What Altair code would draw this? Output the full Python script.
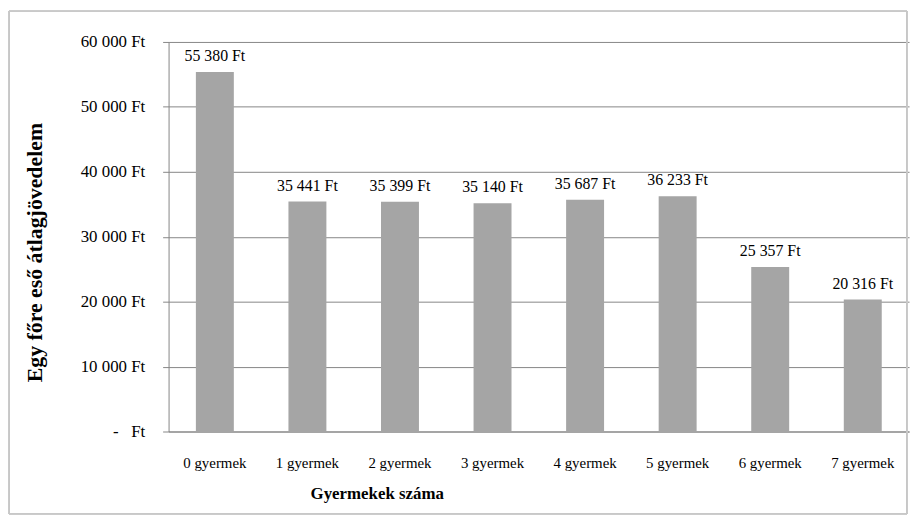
import altair as alt
import pandas as pd

categories = ["0 gyermek", "1 gyermek", "2 gyermek", "3 gyermek",
              "4 gyermek", "5 gyermek", "6 gyermek", "7 gyermek"]
values = [55380, 35441, 35399, 35140, 35687, 36233, 25357, 20316]
labels = ["55 380 Ft", "35 441 Ft", "35 399 Ft", "35 140 Ft",
          "35 687 Ft", "36 233 Ft", "25 357 Ft", "20 316 Ft"]
y_ticks = [0, 10000, 20000, 30000, 40000, 50000, 60000]

df = pd.DataFrame({"cat": categories, "val": values, "lab": labels})

FONT = "Liberation Serif"
W, H = 747, 393

x = alt.X("cat:N", sort=categories,
          scale=alt.Scale(paddingInner=0.59, paddingOuter=0.295),
          axis=alt.Axis(title="Gyermekek száma", labelAngle=0, ticks=False,
                        labelPadding=24, labelFontSize=15, labelFont=FONT,
                        labelColor="black", domainColor="#868686",
                        titleFont=FONT, titleFontSize=17, titleFontWeight="bold",
                        titleColor="black", titleX=210, titleY=63,
                        titleAlign="center", titleBaseline="middle",
                        grid=False))
y = alt.Y("val:Q", scale=alt.Scale(domain=[0, 60000], nice=False),
          axis=alt.Axis(title="Egy főre eső átlagjövedelem", values=y_ticks,
                        labelExpr="datum.value == 0 ? '-\u00a0\u00a0\u00a0Ft' : replace(format(datum.value, ',.0f'), ',', '\u00a0') + '\u00a0Ft'",
                        labelFont=FONT, labelFontSize=17, labelColor="black",
                        labelPadding=18, tickSize=6, tickColor="#868686",
                        domainColor="#868686", gridColor="#868686",
                        gridOpacity=1, gridWidth=1,
                        titleFont=FONT, titleFontSize=22, titleFontWeight="bold",
                        titleColor="black", titleAngle=270, titleX=-135,
                        titleY=212, titleAlign="center", titleBaseline="middle"))

bars = alt.Chart(df).mark_bar(color="#A5A5A5").encode(x=x, y=y)
text = alt.Chart(df).mark_text(font=FONT, fontSize=16, color="black",
                               baseline="bottom", dy=-8).encode(
    x=alt.X("cat:N", sort=categories), y="val:Q", text="lab:N")

frame = alt.Chart(df).mark_rect(fill=None, stroke="#C8C8C8", strokeWidth=1).encode(
    x=alt.value(-161), x2=alt.value(W - 2), y=alt.value(-31), y2=alt.value(H + 83))

chart = alt.layer(frame, bars, text).properties(
    width=W, height=H,
    padding={"left": 162, "top": 32, "right": 5, "bottom": 86},
    autosize=alt.AutoSizeParams(type="none"),
).configure_view(stroke=None)

chart.save("out.html", embed_options={"renderer": "svg", "actions": False})
